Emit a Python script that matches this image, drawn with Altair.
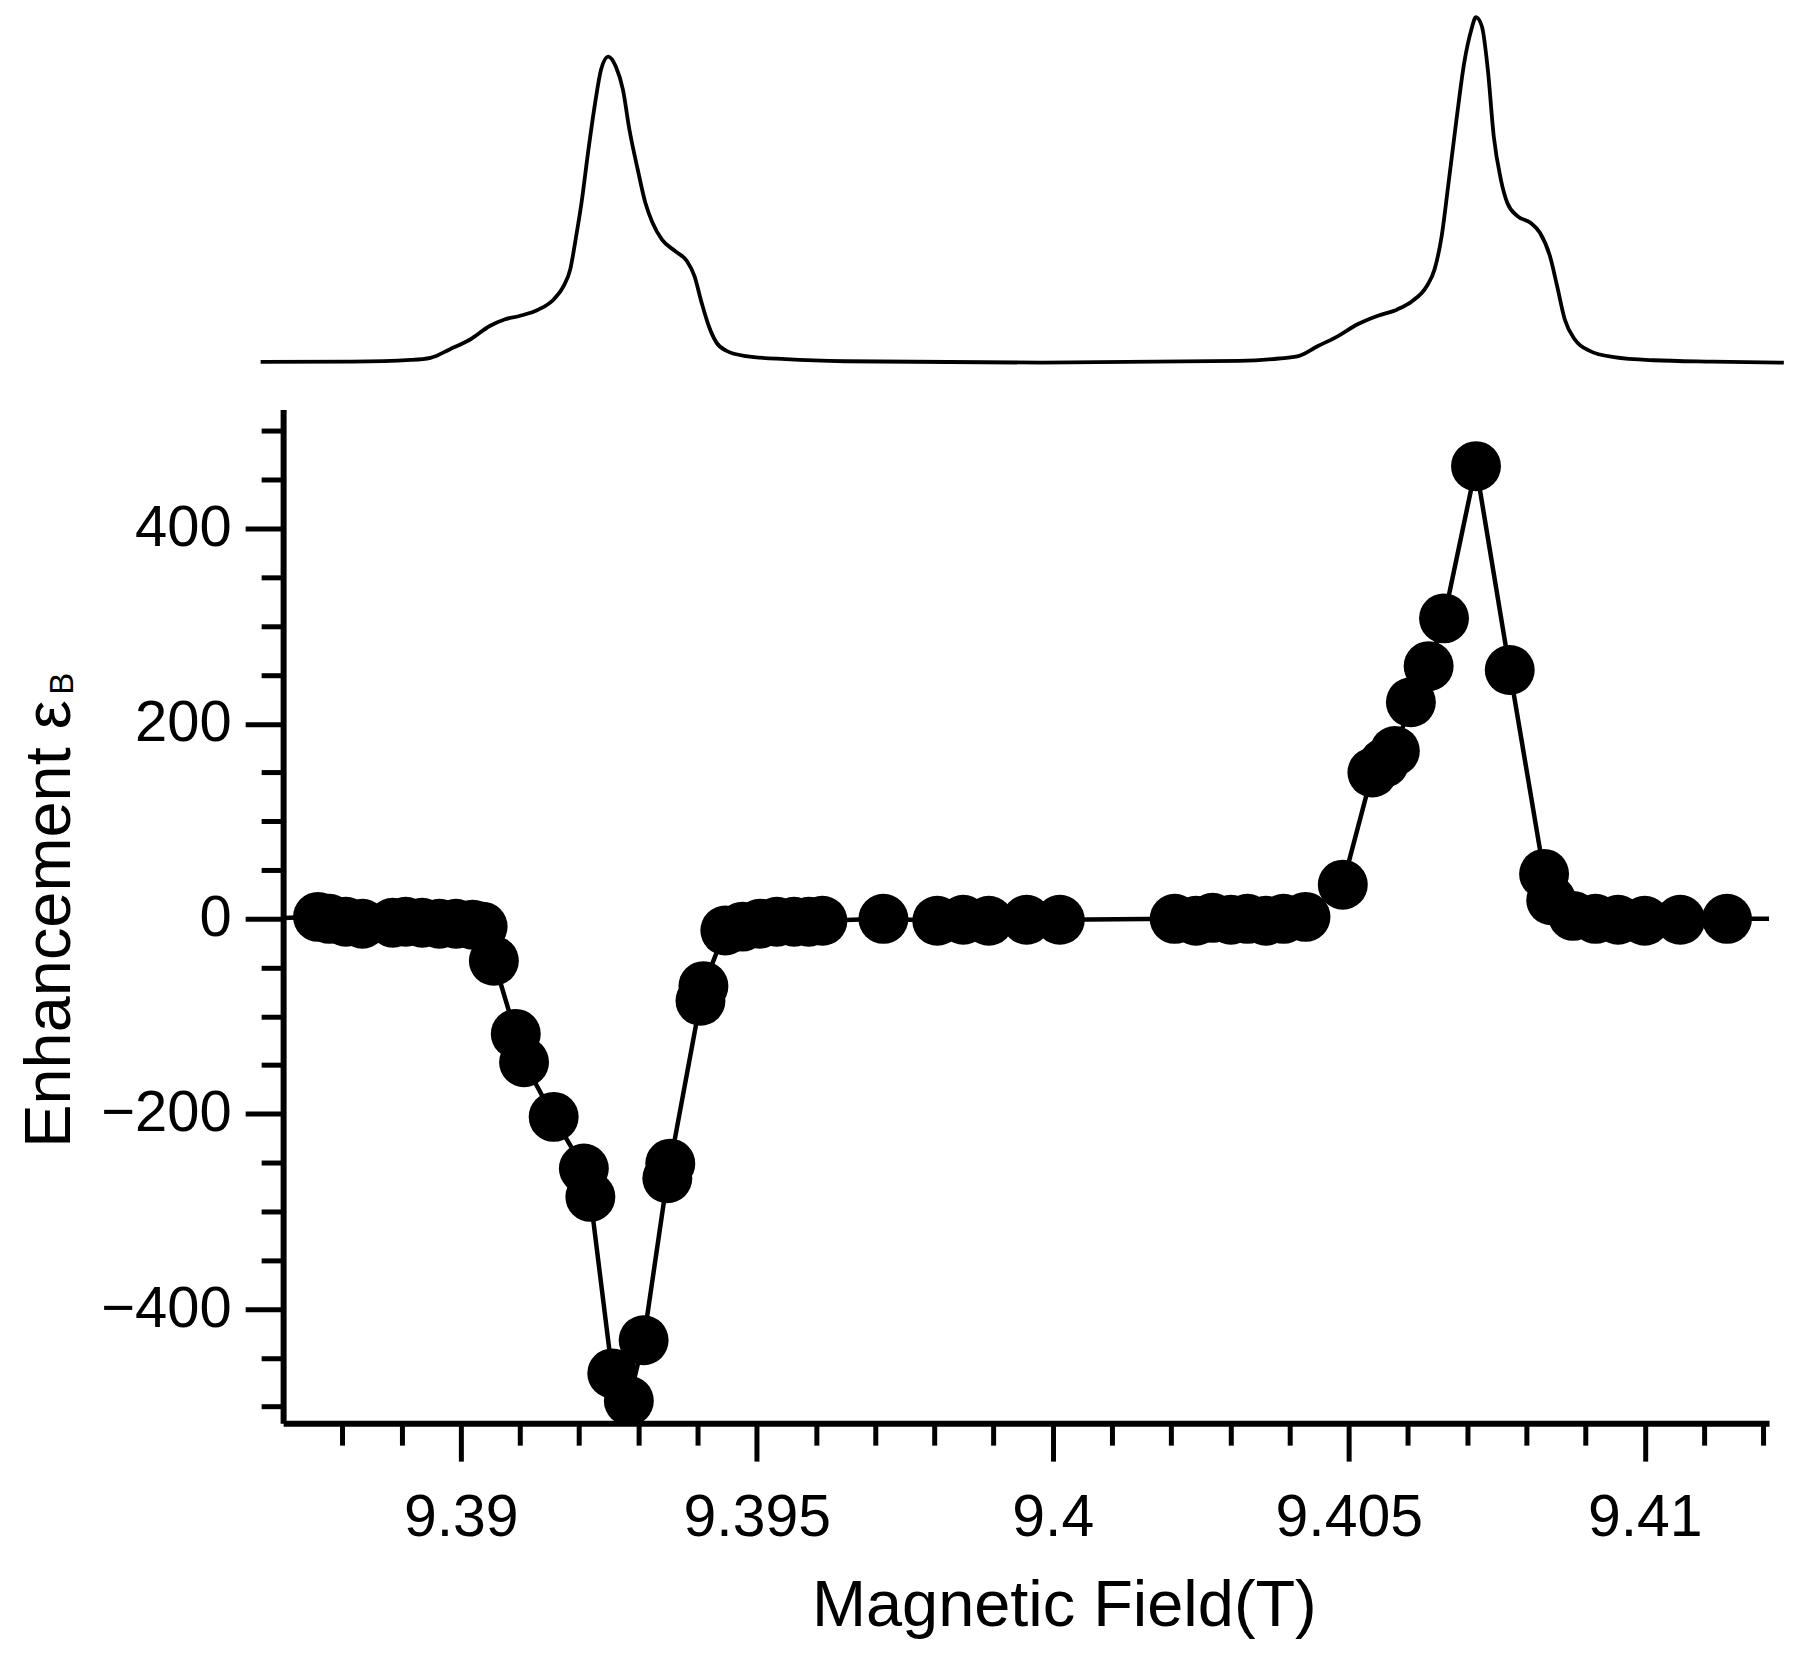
import altair as alt
import pandas as pd

FONT = "Liberation Sans"

# ---- top panel: EPR-like spectrum (relative intensity) ----
spec_field = [9.38662, 9.38816, 9.38916, 9.38949, 9.38982, 9.39016, 9.39049, 9.39074, 9.39099, 9.39132,
              9.39157, 9.39174, 9.39185, 9.39195, 9.39204, 9.39215, 9.39227, 9.39237, 9.39249, 9.39262,
              9.39274, 9.39285, 9.39299, 9.39312, 9.39324, 9.39340, 9.39362, 9.39382, 9.39395, 9.39407,
              9.39419, 9.39432, 9.39449, 9.39482, 9.39549, 9.39649, 9.39982, 9.40315, 9.40382, 9.40415,
              9.40448, 9.40482, 9.40515, 9.40548, 9.40582, 9.40607, 9.40632, 9.40645, 9.40657, 9.40668,
              9.40682, 9.40695, 9.40707, 9.40715, 9.40725, 9.40735, 9.40745, 9.40757, 9.40768, 9.40785,
              9.40807, 9.40823, 9.40840, 9.40852, 9.40865, 9.40882, 9.40907, 9.40948, 9.41015, 9.41115,
              9.41235]
spec_int = [0.2, 0.3, 0.8, 1.4, 3.9, 6.7, 10.6, 12.5, 13.5, 15.4,
            18.3, 22.2, 27.0, 36.6, 46.2, 60.7, 75.1, 84.8, 88.6, 85.7,
            79.0, 67.4, 55.9, 46.2, 40.5, 35.6, 32.3, 29.4, 25.0, 17.3,
            10.6, 5.8, 3.4, 1.9, 1.0, 0.4, 0.0, 0.5, 1.2, 1.9,
            4.8, 7.7, 11.1, 13.5, 15.4, 17.8, 22.2, 27.0, 36.6, 51.1,
            70.3, 86.7, 96.3, 100.0, 97.3, 84.8, 65.5, 53.0, 46.2, 42.4,
            40.5, 37.6, 30.8, 22.2, 12.5, 6.7, 3.4, 1.6, 0.7, 0.3,
            0.0]

# ---- bottom panel: enhancement data points ----
field_pts = [9.38759, 9.38778, 9.38806, 9.38834, 9.38885, 9.38907, 9.38935, 9.38964, 9.38992, 9.39020, 9.39037,
             9.39056, 9.39093, 9.39107, 9.39157, 9.39208, 9.39219, 9.39256, 9.39284, 9.39309, 9.39349, 9.39354,
             9.39405, 9.39410,
             9.39447, 9.39476, 9.39505, 9.39534, 9.39563, 9.39588, 9.39611,
             9.39714, 9.39805, 9.39849, 9.39892, 9.39956, 9.40012,
             9.40206, 9.40242, 9.40270, 9.40301, 9.40329, 9.40360, 9.40390, 9.40427,
             9.40490, 9.40540, 9.40560, 9.40578, 9.40605, 9.40635, 9.40661, 9.40715, 9.40772, 9.40830,
             9.40842, 9.40879, 9.40917, 9.40955, 9.41000, 9.41060, 9.41139]
enh_pts = [2, 0, -3, -5, -4, -3, -4, -5, -5, -6, -8,
           -43, -118, -147, -203, -256, -285, -466, -494, -432, -266, -251,
           -84, -69,
           -12, -8, -5, -3, -3, -3, -2,
           0, -2, -1, -2, -1, -1,
           0, -2, 1, -1, 0, -2, 0, 2,
           35, 150, 160, 172, 222, 259, 308, 464, 255, 46,
           19, 3, 0, -1, -2, -1, 0]
# baseline continues past both ends of the axis (clipped)
edge_field = [9.3865, 9.4126]
edge_enh = [0, 0]

x_ticks = [9.388, 9.389, 9.390, 9.391, 9.392, 9.393, 9.394, 9.395, 9.396, 9.397, 9.398, 9.399,
           9.400, 9.401, 9.402, 9.403, 9.404, 9.405, 9.406, 9.407, 9.408, 9.409, 9.410, 9.411, 9.412]
y_ticks = [-500, -450, -400, -350, -300, -250, -200, -150, -100, -50, 0,
           50, 100, 150, 200, 250, 300, 350, 400, 450, 500]

x_dom = [9.387, 9.4121]
y_dom = [-517, 522]
W = 1488

spec_df = pd.DataFrame({"field": spec_field, "intensity": spec_int})
pts_df = pd.DataFrame({"field": field_pts, "enh": enh_pts})
line_df = pd.DataFrame({"field": edge_field[:1] + field_pts + edge_field[1:],
                        "enh": edge_enh[:1] + enh_pts + edge_enh[1:]})
sub_df = pd.DataFrame({"t": ["B"]})

top = alt.Chart(spec_df).mark_line(
    color="black", strokeWidth=3.8, interpolate="monotone", clip=False
).encode(
    x=alt.X("field:Q", scale=alt.Scale(domain=x_dom, nice=False, zero=False), axis=None),
    y=alt.Y("intensity:Q", scale=alt.Scale(domain=[0, 100], nice=False), axis=None),
).properties(width=W, height=346)

x_axis = alt.Axis(
    values=x_ticks,
    tickSize={"condition": {"test": "round(datum.value*1000) % 5 === 0", "value": 38}, "value": 22},
    tickWidth=5, domainWidth=6,
    labelExpr="round(datum.value*1000) % 5 === 0 ? format(datum.value, '~g') : ''",
    labelFontSize=59, labelPadding=27, labelOverlap=False, labelFlush=False,
    title="Magnetic Field(T)", titleFontSize=65, titleBaseline="alphabetic",
    titleAlign="center", titleX=781.8, titleY=202.7,
)
y_axis = alt.Axis(
    values=y_ticks,
    tickSize={"condition": {"test": "datum.value % 200 === 0", "value": 38}, "value": 22},
    tickWidth=5, domainWidth=6,
    labelExpr="datum.value % 200 === 0 ? datum.label : ''",
    labelFontSize=58, labelPadding=14, labelOverlap=False, labelFlush=False,
    title="Enhancement ε", titleFontSize=65, titleAngle=270, titleBaseline="alphabetic",
    titleAlign="center", titleX=-214.2, titleY=514.7,
)

xenc = alt.X("field:Q", scale=alt.Scale(domain=x_dom, nice=False, zero=False), axis=x_axis)
yenc = alt.Y("enh:Q", scale=alt.Scale(domain=y_dom, nice=False, zero=False), axis=y_axis)

line = alt.Chart(line_df).mark_line(color="black", strokeWidth=4.5, clip=True).encode(x=xenc, y=yenc)
pts = alt.Chart(pts_df).mark_circle(color="black", opacity=1, size=2500, clip=True).encode(
    x="field:Q", y="enh:Q")
sub = alt.Chart(sub_df).mark_text(
    angle=270, fontSize=33, align="center", baseline="alphabetic", font=FONT, color="black"
).encode(x=alt.value(-210.5), y=alt.value(274.5), text="t:N")

bottom = alt.layer(line, pts, sub).properties(width=W, height=1015)

chart = alt.vconcat(top, bottom, spacing=31).properties(
    padding={"left": 8.5, "top": 0, "right": 0, "bottom": 5}
).configure_view(strokeWidth=0).configure_axis(
    grid=False, domainColor="black", tickColor="black", labelColor="black",
    titleColor="black", labelFont=FONT, titleFont=FONT, titleFontWeight="normal"
)

chart.save("out.html", embed_options={"renderer": "svg", "actions": False})
